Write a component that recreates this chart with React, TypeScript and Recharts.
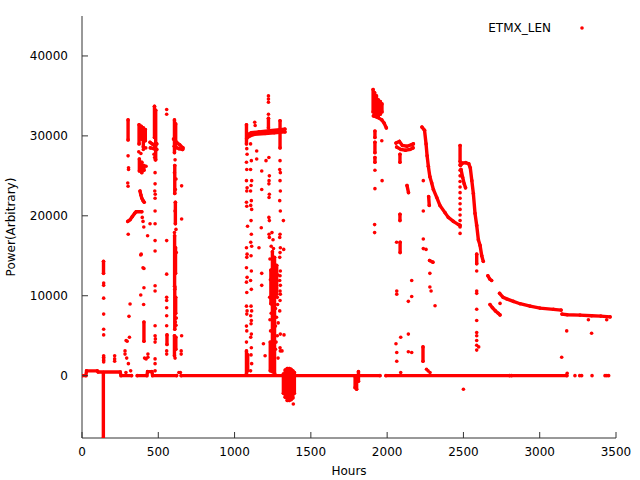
import { ScatterChart, Scatter, XAxis, YAxis, Label } from "recharts";

const RED = "#ff0000";
const AX = "#333333";
const FONT = "DejaVu Sans";

const xTicks = [0, 500, 1000, 1500, 2000, 2500, 3000, 3500];
const yTicks = [0, 10000, 20000, 30000, 40000];
const seriesName = "ETMX_LEN";

// ---- dense stretches: [hours, power] read along each run of dots ----
const baseA = [[0, 0], [25, 0], [30, 600], [100, 600], [106, 450], [250, 450], [256, 0], [325, 0]];
const baseB = [[362, 0], [425, 0], [430, 500], [458, 500], [463, 0], [620, 0]];
const baseC = [[650, 0], [1953, 0]];
const baseD = [[1992, 0], [2803, 0]];
const baseE = [[2815, 0], [3178, 0]];

const drop140 = [[140, 400], [140, -7800]];
const col140 = [[141, 14300], [141, 12800]];
const curve20k = [[300, 19300], [315, 19500], [330, 19900], [345, 20300], [355, 20500], [392, 20500]];
const col302 = [[302, 32000], [302, 29500]];
const col375 = [[374, 31400], [374, 29000]];
const col388 = [[388, 31200], [388, 29600]];
const col402 = [[402, 31000], [402, 28600]];
const col415 = [[415, 30800], [415, 29400]];
const blob26a = [[376, 27100], [376, 25600]];
const blob26b = [[392, 26700], [392, 25400]];
const blob26c = [[406, 26300], [406, 25700]];
const diag22k = [[380, 23100], [386, 22600], [392, 22200], [400, 21900], [408, 21700]];
const col406 = [[406, 6700], [406, 4300]];
const col475 = [[475, 33700], [475, 29800]];
const col483 = [[483, 33200], [483, 27000]];
const bar29a = [[446, 29200], [460, 29000], [475, 28800], [490, 29000]];
const bar29b = [[448, 28500], [470, 28400], [490, 28300]];
const col557 = [[557, 5100], [557, 3900]];
const col606a = [[606, 32000], [606, 27900]];
const col614a = [[614, 31500], [614, 28500]];
const col608a = [[608, 26300], [608, 22800]];
const col612a = [[612, 21700], [612, 19000]];
const col607b = [[607, 17500], [607, 11200]];
const col613b = [[613, 16000], [613, 12800]];
const col608c = [[608, 10800], [608, 5800]];
const col614c = [[614, 9800], [614, 7800]];
const col606d = [[606, 5000], [606, 2500]];
const col615d = [[615, 4800], [615, 3300]];
const bar29c = [[600, 29600], [620, 29200], [640, 28900], [662, 28500]];
const bar29d = [[605, 28700], [635, 28400], [660, 28300]];

const col1078 = [[1078, 31400], [1078, 29000]];
const col1078low = [[1078, 3100], [1078, 200]];
const col1086low = [[1086, 2600], [1086, 600]];
const band30a = [[1080, 29700], [1100, 30000], [1130, 30200], [1200, 30300], [1260, 30400], [1330, 30500]];
const band30b = [[1080, 30100], [1110, 30400], [1160, 30500], [1230, 30650], [1330, 30850]];
const col1222 = [[1222, 32200], [1222, 31000]];
const col1248 = [[1248, 15500], [1248, 500]];
const col1262 = [[1262, 14800], [1262, 300]];
const col1238 = [[1238, 13200], [1238, 9000]];
const col1276 = [[1276, 13800], [1276, 10200]];
const col1234low = [[1234, 4200], [1234, 600]];
const col1298 = [[1298, 31900], [1298, 28500]];
const neg1320 = [[1320, 200], [1320, -2200]];
const neg1332 = [[1332, 700], [1332, -2700]];
const neg1345 = [[1345, 900], [1345, -3100]];
const neg1358 = [[1358, 900], [1358, -3100]];
const neg1370 = [[1370, 800], [1370, -3000]];
const neg1382 = [[1382, 600], [1382, -2800]];
const neg1392 = [[1392, 400], [1392, -2200]];
const dip1790 = [[1790, -100], [1790, -1500]];
const dip1800 = [[1800, -200], [1800, -1700]];
const dip1812 = [[1812, 500], [1812, -700]];

const top1908 = [[1908, 35800], [1908, 33000]];
const top1918 = [[1918, 35400], [1918, 32600]];
const top1930 = [[1930, 35000], [1930, 32400]];
const top1942 = [[1942, 34500], [1942, 32300]];
const top1955 = [[1955, 34300], [1955, 32700]];
const top1966 = [[1966, 34000], [1966, 33000]];
const step32k = [[1910, 32500], [1940, 32300], [1965, 32000], [1980, 31600], [1995, 31000]];
const col1920a = [[1920, 30600], [1920, 29800]];
const col1920b = [[1920, 29200], [1920, 27900]];
const col1920c = [[1920, 27300], [1920, 26700]];
const band29a = [[2058, 29100], [2080, 29300], [2100, 28800], [2130, 28700], [2160, 28900], [2172, 29000]];
const band29b = [[2062, 28600], [2090, 28300], [2120, 28200], [2150, 28300], [2170, 28500]];
const col2084a = [[2084, 27700], [2084, 26700]];
const col2084b = [[2084, 20200], [2084, 19400]];
const col2085c = [[2085, 16700], [2085, 15400]];
const chunk2135 = [[2130, 23800], [2140, 22900]];
const decay2230 = [
  [2228, 31100], [2245, 30700], [2255, 29000], [2262, 27500], [2270, 26200], [2280, 24900],
  [2292, 24100], [2303, 23300], [2325, 22300], [2346, 21300], [2379, 20400], [2401, 19800],
  [2434, 19300], [2467, 18900], [2478, 18800],
];
const chunk2273 = [[2272, 22400], [2276, 21300]];
const chunk14k = [[2278, 14400], [2300, 14200]];
const col2235 = [[2235, 3600], [2235, 1800]];
const col2478 = [[2478, 28800], [2478, 26800]];
const bump26k = [
  [2480, 26300], [2495, 26600], [2515, 26650], [2535, 26500], [2545, 26000], [2555, 24400],
  [2565, 22800], [2576, 20300], [2587, 18800], [2598, 17000], [2609, 16300], [2620, 15000], [2630, 14300],
];
const loop24k = [[2484, 25800], [2495, 24800], [2505, 24000], [2514, 23500]];
const col2587 = [[2587, 15200], [2587, 14000]];
const chunk12k = [[2660, 12500], [2672, 12100], [2685, 11900]];
const diag8k = [[2674, 8900], [2690, 8500], [2710, 8100], [2728, 7800], [2740, 7600]];
const decay2740 = [
  [2737, 10300], [2760, 9800], [2784, 9600], [2827, 9300], [2871, 9000], [2937, 8700],
  [3002, 8450], [3090, 8300], [3140, 8200],
];
const tail7k = [[3146, 7700], [3180, 7620], [3264, 7580], [3340, 7500], [3400, 7450], [3461, 7350]];

// ---- scattered single dots ----
const dotsEarly = [
  [142, 11600], [142, 11300], [142, 9700], [142, 7700], [142, 5800], [142, 5100], [142, 2500], [142, 2300],
  [142, 2100], [142, 1900], [142, 1700], [214, 2500], [214, 2100], [214, 1800],
  [289, 4400], [296, 4300], [311, 4800], [315, 8960], [308, 7420], [282, 3100], [282, 2700], [293, 2200],
  [304, 1500], [319, 600], [288, 400], [302, 27500], [305, 26000], [305, 25800], [300, 24100], [302, 23700],
  [303, 17700], [372, 28000], [386, 27800], [402, 28300], [418, 28500], [420, 26200],
  [395, 19800], [400, 19300], [405, 18600], [430, 17500], [388, 15200], [385, 15100], [400, 13500],
  [406, 13400], [406, 11000], [385, 10100], [404, 8900], [410, 2200], [420, 2100], [432, 2700], [432, 2300],
  [472, 27700], [476, 27300], [480, 27000], [479, 25400], [479, 24000], [477, 23100], [480, 22700],
  [479, 22200], [479, 20600], [479, 19000], [446, 19000], [479, 16900], [479, 15600], [479, 11250],
  [479, 10600], [479, 6250], [479, 5000], [481, 4600], [479, 4200], [479, 2100], [479, 1500], [479, 600],
  [555, 33300], [555, 32700], [555, 16900], [555, 12700], [555, 9800], [555, 9400], [555, 8500],
  [555, 7500], [555, 6250], [555, 3100], [555, 2700],
  [610, 27000], [606, 25400], [616, 24600], [612, 23300], [610, 20600], [616, 18300], [606, 17900],
  [618, 15400], [610, 11000], [618, 7200], [612, 6700], [616, 6300], [610, 2200],
  [653, 23750], [653, 19600], [653, 5000], [650, 3100], [650, 2700], [635, 400], [645, 400],
];

const dotsMid = [
  [1080, 28400], [1082, 27700], [1078, 26700], [1080, 25800], [1078, 24400], [1082, 23500], [1080, 23100],
  [1078, 21700], [1080, 21200], [1085, 18700], [1078, 16000], [1082, 15200], [1080, 14800], [1078, 13500],
  [1082, 12300], [1078, 11700], [1080, 10400], [1078, 8700], [1082, 8100], [1080, 7700], [1078, 6200],
  [1080, 5600], [1078, 4200],
  [1105, 29000], [1110, 26900], [1105, 25800], [1112, 24400], [1108, 23800], [1105, 23100], [1110, 21900],
  [1106, 21300], [1112, 20800], [1108, 19400], [1110, 17700], [1106, 16700], [1112, 16200], [1108, 15000],
  [1110, 13100], [1105, 11900], [1110, 10800], [1108, 8700], [1112, 8100], [1106, 7500], [1110, 6900],
  [1108, 6500], [1110, 5200], [1106, 4800], [1110, 3500], [1108, 2600], [1112, 1500], [1105, 600],
  [1132, 31700], [1135, 31300], [1145, 28100], [1145, 27100], [1160, 16000], [1178, 25600], [1178, 23300],
  [1175, 18500], [1178, 12800], [1178, 11300], [1189, 4000], [1200, 2500], [1206, 26900],
  [1222, 35000], [1222, 34600], [1222, 34200], [1222, 32700],
  [1225, 27300], [1228, 25000], [1226, 24400], [1225, 24000], [1228, 22700], [1226, 22300], [1225, 19800],
  [1228, 19400], [1226, 17700], [1228, 17300],
  [1245, 17900], [1252, 17000], [1240, 16200], [1255, 15900], [1235, 12000], [1270, 13000], [1275, 11800],
  [1270, 10600], [1280, 9800], [1268, 8400], [1275, 7300], [1268, 6200], [1280, 5000], [1272, 4200],
  [1268, 3300], [1285, 2200], [1240, 7800], [1236, 5600], [1240, 2700], [1232, 14600], [1284, 12600],
  [1282, 8900], [1286, 6600], [1232, 7000], [1230, 9800],
  [1298, 26900], [1296, 25800], [1300, 25400], [1298, 24400], [1300, 23100], [1296, 21900], [1300, 20600],
  [1298, 17700], [1296, 17300], [1300, 16000], [1298, 15400], [1296, 14800], [1300, 13100], [1298, 12500],
  [1296, 11900], [1300, 11300], [1298, 10600], [1300, 10200], [1298, 9400], [1296, 8100], [1300, 5200],
  [1298, 3500], [1300, 3100], [1320, 19400], [1322, 15800], [1311, 3100], [1324, 5100], [1385, -3550],
];

const dotsLate = [
  [1920, 25700], [1920, 23400], [1918, 18900], [1918, 17900], [1965, 29400], [1967, 24400],
  [2062, 16700], [2063, 10600], [2063, 10200], [2058, 4000], [2063, 2900], [2063, 1800], [2089, 4800],
  [2089, 400], [2139, 9300], [2139, 5200], [2139, 3000], [2161, 11900], [2161, 9900], [2161, 2900],
  [2237, 24400], [2237, 20600], [2237, 17100], [2237, 15900], [2255, 15800], [2280, 12800], [2280, 11100],
  [2288, 10600], [2314, 8750], [2258, 800], [2268, 600], [2281, 400], [2500, -1700],
  [2478, 26400], [2478, 25700], [2478, 25000], [2478, 24300], [2478, 23600], [2478, 22900], [2478, 22200],
  [2478, 21500], [2478, 20800], [2478, 20100], [2478, 19400], [2478, 18600], [2478, 17800],
  [2587, 13100], [2587, 10600], [2587, 10300], [2587, 8300], [2587, 6900], [2587, 5400], [2587, 5000],
  [2587, 4400], [2587, 3800], [2587, 3200], [2600, 3600], [2740, 9040],
  [3144, 2300], [3177, 5600], [3340, 5300], [3319, 7000], [3439, 7000],
  [3180, 300], [3231, 0], [3262, 0], [3275, 0], [3343, 0], [3428, 0], [3440, 0], [3452, 0],
];

const runs = [
  baseA, baseB, baseC, baseD, baseE, drop140, col140, curve20k, col302, col375, col388, col402, col415,
  blob26a, blob26b, blob26c, diag22k, col406, col475, col483, bar29a, bar29b, col557, col606a, col614a,
  col608a, col612a, col607b, col613b, col608c, col614c, col606d, col615d, bar29c, bar29d,
  col1078, col1078low, col1086low, band30a, band30b, col1222, col1248, col1262, col1238, col1276,
  col1234low, col1298, neg1320, neg1332, neg1345, neg1358, neg1370, neg1382, neg1392,
  dip1790, dip1800, dip1812,
  top1908, top1918, top1930, top1942, top1955, top1966, step32k, col1920a, col1920b, col1920c,
  band29a, band29b, col2084a, col2084b, col2085c, chunk2135, decay2230, chunk2273, chunk14k, col2235,
  col2478, bump26k, loop24k, col2587, chunk12k, diag8k, decay2740, tail7k,
];
const dotGroups = [dotsEarly, dotsMid, dotsLate];

const toPts = (a: number[][]) => a.map(([x, y]) => ({ x, y }));

const Dot = (p: any) => <circle cx={p.cx} cy={p.cy} r={1.8} fill={RED} />;

const textStyle = { fontFamily: FONT, fontSize: 12, fill: "#000" };

const BottomTick = (p: any) => (
  <g>
    <line x1={p.x} x2={p.x} y1={p.y} y2={p.y - 6} stroke={AX} />
    <text x={p.x} y={p.y + 18} textAnchor="middle" style={textStyle}>{p.payload.value}</text>
  </g>
);
const TopTick = (p: any) => <line x1={p.x} x2={p.x} y1={p.y} y2={p.y + 6} stroke={AX} />;
const LeftTick = (p: any) => (
  <g>
    <line x1={p.x} x2={p.x + 6} y1={p.y} y2={p.y} stroke={AX} />
    <text x={p.x - 14} y={p.y + 4.5} textAnchor="end" style={textStyle}>{p.payload.value}</text>
  </g>
);
const RightTick = (p: any) => <line x1={p.x} x2={p.x - 6} y1={p.y} y2={p.y} stroke={AX} />;

export default function App() {
  return (
    <div style={{ position: "absolute", left: 0, top: 0, width: 640, height: 480, background: "#fff" }}>
      <ScatterChart width={640} height={480} margin={{ top: 16, right: 24, bottom: 0, left: 0 }}>
        <XAxis type="number" dataKey="x" domain={[0, 3500]} ticks={xTicks} interval={0} allowDataOverflow
          height={42} tickSize={0} tickMargin={0} tickLine={false} axisLine={{ stroke: AX }} tick={BottomTick}>
          <Label content={(lp: any) => (
            <text x={lp.viewBox.x + lp.viewBox.width / 2} y={lp.viewBox.y + 37} textAnchor="middle" style={textStyle}>
              Hours
            </text>
          )} />
        </XAxis>
        <XAxis xAxisId="top" orientation="top" type="number" domain={[0, 3500]} ticks={xTicks} interval={0}
          height={0} tickSize={0} tickMargin={0} tickLine={false} axisLine={{ stroke: AX }} tick={TopTick} />
        <YAxis type="number" dataKey="y" domain={[-7800, 45000]} ticks={yTicks} interval={0} allowDataOverflow
          width={82} tickSize={0} tickMargin={0} tickLine={false} axisLine={{ stroke: AX }} tick={LeftTick}>
          <Label content={(lp: any) => {
            const cx = 15;
            const cy = lp.viewBox.y + lp.viewBox.height / 2;
            return (
              <text x={cx} y={cy} transform={`rotate(-90 ${cx} ${cy})`} textAnchor="middle" style={textStyle}>
                Power(Arbitrary)
              </text>
            );
          }} />
        </YAxis>
        <YAxis yAxisId="right" orientation="right" type="number" domain={[-7800, 45000]} ticks={yTicks}
          interval={0} width={0} tickSize={0} tickMargin={0} tickLine={false} axisLine={{ stroke: AX }} tick={RightTick} />
        {runs.map((r, i) => (
          <Scatter key={`run${i}`} data={toPts(r)} fill={RED} shape={Dot} isAnimationActive={false}
            line={{ stroke: RED, strokeWidth: 3.4, strokeLinecap: "round" }} />
        ))}
        {dotGroups.map((g, i) => (
          <Scatter key={`dots${i}`} data={toPts(g)} fill={RED} shape={Dot} isAnimationActive={false} />
        ))}
      </ScatterChart>
      <svg width={640} height={480} style={{ position: "absolute", left: 0, top: 0, pointerEvents: "none" }}>
        <text x={551} y={32} textAnchor="end" style={textStyle}>{seriesName}</text>
        <circle cx={582} cy={28} r={1.8} fill={RED} />
      </svg>
    </div>
  );
}
